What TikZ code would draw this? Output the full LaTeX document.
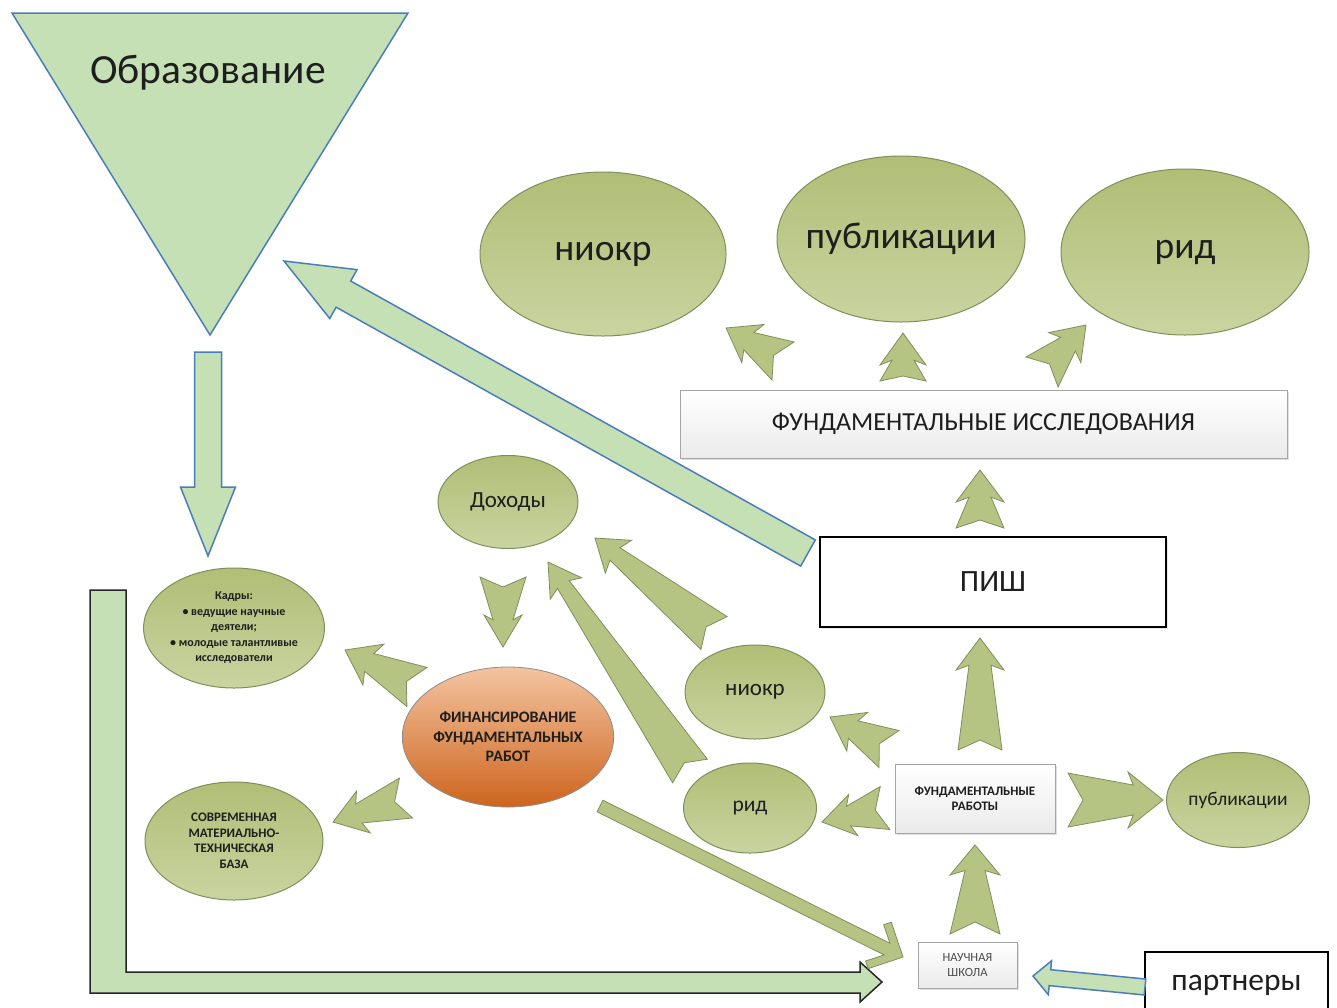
\documentclass[tikz,border=0pt]{standalone}
\usepackage{fontspec}
\setmainfont{Carlito}
\usetikzlibrary{calc,shapes.geometric,shadows}
\definecolor{olivefill}{RGB}{181,196,131}
\definecolor{oliveline}{RGB}{128,142,92}
\definecolor{olivetop}{RGB}{176,190,118}
\definecolor{olivebot}{RGB}{201,212,160}
\definecolor{lightgreen}{RGB}{197,224,180}
\definecolor{blueline}{RGB}{74,126,187}
\definecolor{peach}{RGB}{243,196,160}
\definecolor{rust}{RGB}{206,100,30}
\definecolor{boxline}{RGB}{165,165,165}
\definecolor{ink}{RGB}{30,30,30}

\tikzset{
  blob/.style={ellipse, draw=oliveline, line width=1pt, top color=olivetop, bottom color=olivebot,
    inner sep=0pt, align=center, text=ink},
  plainbox/.style={rectangle, draw=boxline, line width=1pt, top color=white, bottom color=black!8,
    inner sep=0pt, align=center, text=ink, drop shadow={opacity=0.25, shadow xshift=2pt, shadow yshift=-2pt}},
  blackbox/.style={rectangle, draw=black, line width=2.5pt, fill=white, inner sep=0pt, text=ink,
    drop shadow={opacity=0.2, shadow xshift=2pt, shadow yshift=-2pt}},
  fatarr/.style={fill=olivefill, draw=oliveline, line width=0.8pt, line join=miter},
  blockarr/.style={fill=lightgreen, draw=blueline, line width=1.5pt, line join=miter},
}

% notched arrow: tail, tip, tail half width, notch, neck half width, head length, wing half width
\newcommand\fatarrow[7]{%
  \pgfmathsetmacro\neckd{0.85*#6}%
  \coordinate (fa-h) at ($(#2)!#6pt!(#1)$);
  \coordinate (fa-n) at ($(#2)!\neckd pt!(#1)$);
  \path[fatarr] (#2) -- ($(fa-h)!#7pt!90:(#1)$) -- ($(fa-n)!#5pt!90:(#1)$)
    -- ($(#1)!#3pt!-90:(#2)$) -- ($(#1)!#4pt!(#2)$) -- ($(#1)!#3pt!90:(#2)$)
    -- ($(fa-n)!#5pt!-90:(#1)$) -- ($(fa-h)!#7pt!-90:(#1)$) -- cycle;}

% block arrow: tail, tip, shaft half width, head length, wing half width
\newcommand\blockarrow[5]{%
  \coordinate (ba-h) at ($(#2)!#4pt!(#1)$);
  \path[blockarr] (#2) -- ($(ba-h)!#5pt!90:(#1)$) -- ($(ba-h)!#3pt!90:(#1)$)
    -- ($(#1)!#3pt!-90:(#2)$) -- ($(#1)!#3pt!90:(#2)$)
    -- ($(ba-h)!#3pt!-90:(#1)$) -- ($(ba-h)!#5pt!-90:(#1)$) -- cycle;}

\begin{document}
\begin{tikzpicture}[x=1pt, y=-1pt]
\useasboundingbox (0,0) rectangle (1337,1007);

% Education funnel
\path[blockarr] (12,13) -- (408,13) -- (210,335) -- cycle;
\node[font=\fontsize{41.5}{46}\selectfont, text=ink] (edu) at (208,73) {Образование};

% Results on top
\node[blob, inner xsep=-40pt, minimum width=246, minimum height=164, font=\fontsize{37.5}{42}\selectfont] (niokrtop) at (603,254) {ниокр};
\node[blob, inner xsep=-40pt, minimum width=248, minimum height=166, font=\fontsize{37.5}{42}\selectfont] (publtop) at (901,239) {публикации};
\node[blob, inner xsep=-40pt, minimum width=248, minimum height=166, font=\fontsize{37.5}{42}\selectfont] (ridtop) at (1185,252) {рид};

% Boxes
\node[plainbox, minimum width=607, minimum height=68, font=\fontsize{26}{30}\selectfont] (fundres) at (983.5,424) {ФУНДАМЕНТАЛЬНЫЕ ИССЛЕДОВАНИЯ};
\node[blackbox, minimum width=346, minimum height=90, font=\fontsize{31}{35}\selectfont] (pish) at (993,582) {ПИШ};
\node[plainbox, minimum width=160, minimum height=69, font=\fontsize{13}{15}\selectfont\bfseries] (fundwork) at (975,798.5) {ФУНДАМЕНТАЛЬНЫЕ\\РАБОТЫ};
\node[plainbox, minimum width=99, minimum height=46, font=\fontsize{12.5}{15}\selectfont, text=black!70] (school) at (967.5,965) {НАУЧНАЯ\\ШКОЛА};
\node[rectangle, draw=black, line width=2pt, fill=white, minimum width=183, minimum height=66, font=\fontsize{31.5}{35}\selectfont, text=ink] (partners) at (1236.5,985) {партнеры};

% Middle ellipses
\node[blob, minimum width=140, minimum height=93, font=\fontsize{23}{26}\selectfont] (income) at (508,502) {Доходы};
\node[ellipse, draw=black!45, line width=0.8pt, top color=peach, bottom color=rust, inner sep=0pt, align=center, text=ink,
  minimum width=208, minimum height=140, font=\fontsize{16}{19.5}\selectfont\bfseries] (finance) at (508,737) {ФИНАНСИРОВАНИЕ\\ФУНДАМЕНТАЛЬНЫХ\\РАБОТ};
\node[blob, minimum width=180, minimum height=120, font=\fontsize{12}{15.5}\selectfont\bfseries] (staff) at (234,628)
  {Кадры:\\• ведущие научные\\деятели;\\• молодые талантливые\\исследователи};
\node[blob, minimum width=178, minimum height=118, font=\fontsize{13}{15.5}\selectfont\bfseries] (base) at (234,841)
  {СОВРЕМЕННАЯ\\МАТЕРИАЛЬНО-\\ТЕХНИЧЕСКАЯ\\БАЗА};
\node[blob, minimum width=140, minimum height=94, font=\fontsize{23}{26}\selectfont] (niokr) at (755,692) {ниокр};
\node[blob, minimum width=133, minimum height=90, font=\fontsize{21.5}{25}\selectfont] (rid) at (750,808) {рид};
\node[blob, inner xsep=-10pt, minimum width=143, minimum height=95, font=\fontsize{19.5}{23}\selectfont] (publ) at (1238,800) {публикации};

% Arrow end points
\coordinate (a1tail) at (783,361);  \coordinate (a1tip) at (726,328);
\coordinate (a2tail) at (903,381);  \coordinate (a2tip) at (903,333);
\coordinate (a3tail) at (1042,372); \coordinate (a3tip) at (1086,325);
\coordinate (a4tail) at (980,528);  \coordinate (a4tip) at (980,470);
\coordinate (a5tail) at (980,750);  \coordinate (a5tip) at (980,638);
\coordinate (a6tail) at (1068,800); \coordinate (a6tip) at (1163,800);
\coordinate (a7tail) at (885,808);  \coordinate (a7tip) at (822,822);
\coordinate (a8tail) at (889,749);  \coordinate (a8tip) at (830,717);
\coordinate (a9tail) at (975,934);  \coordinate (a9tip) at (975,845);
\coordinate (a10tail) at (503,577); \coordinate (a10tip) at (503,647);
\coordinate (a11tail) at (417,687); \coordinate (a11tip) at (345,650);
\coordinate (a12tail) at (406,798); \coordinate (a12tip) at (333,822);
\coordinate (a13tail) at (690,771); \coordinate (a13tip) at (548,562);
\coordinate (a14tail) at (714,633); \coordinate (a14tip) at (595,538);

% Notched arrows
\fatarrow{a1tail}{a1tip}{22}{11}{10}{31}{22}
\fatarrow{a2tail}{a2tip}{23}{5}{11}{32}{23}
\fatarrow{a3tail}{a3tip}{22}{11}{10}{31}{22}
\fatarrow{a4tail}{a4tip}{24}{8}{11}{32}{24}
\fatarrow{a5tail}{a5tip}{22}{10}{11}{32}{24}
\fatarrow{a6tail}{a6tip}{27}{15}{15}{35}{28}
\fatarrow{a7tail}{a7tip}{22}{10}{10}{32}{21}
\fatarrow{a8tail}{a8tip}{21}{11}{10}{31}{22}
\fatarrow{a9tail}{a9tip}{25}{12}{10}{30}{25}
\fatarrow{a10tail}{a10tip}{23}{10}{10}{32}{19}
\fatarrow{a11tail}{a11tip}{22}{12}{10}{32}{23}
\fatarrow{a12tail}{a12tip}{21}{12}{10}{32}{22}
\fatarrow{a13tail}{a13tip}{21}{10}{7}{32}{19}
\fatarrow{a14tail}{a14tip}{21}{10}{8}{30}{21}

% Block arrows
\coordinate (b1tail) at (808,553);  \coordinate (b1tip) at (284,261);
\coordinate (b2tail) at (208,352);  \coordinate (b2tip) at (208,556);
\coordinate (b3tail) at (1145,987); \coordinate (b3tip) at (1033,976);
\blockarrow{b1tail}{b1tip}{15}{68}{28}
\blockarrow{b2tail}{b2tip}{13.5}{69}{27.5}
\blockarrow{b3tail}{b3tip}{8}{17}{17}

% L-shaped arrow
\path[fill=lightgreen, draw=black!85, line width=1.5pt, line join=miter]
  (90,590) -- (126,590) -- (126,972) -- (860,972) -- (860,962) -- (882,982)
  -- (860,1002) -- (860,993) -- (90,993) -- cycle;

% Finance to school
\coordinate (dgtail) at (600,806); \coordinate (dgtip) at (903,957);
\coordinate (dg-a) at ($(dgtip)!17.8pt!(dgtail)$);
\coordinate (dg-b) at ($(dgtip)!31.7pt!(dgtail)$);
\coordinate (dg-c) at ($(dgtip)!26pt!(dgtail)$);
\path[fatarr] ($(dgtail)!6.5pt!-90:(dgtip)$) -- ($(dg-a)!6.5pt!90:(dgtail)$) -- ($(dg-b)!20.3pt!90:(dgtail)$)
  -- ($(dg-c)!26pt!90:(dgtail)$) -- (dgtip) -- ($(dg-c)!26pt!-90:(dgtail)$) -- ($(dg-b)!20.3pt!-90:(dgtail)$)
  -- ($(dg-a)!6.5pt!-90:(dgtail)$) -- ($(dgtail)!6.5pt!90:(dgtip)$) -- cycle;
\end{tikzpicture}
\end{document}
